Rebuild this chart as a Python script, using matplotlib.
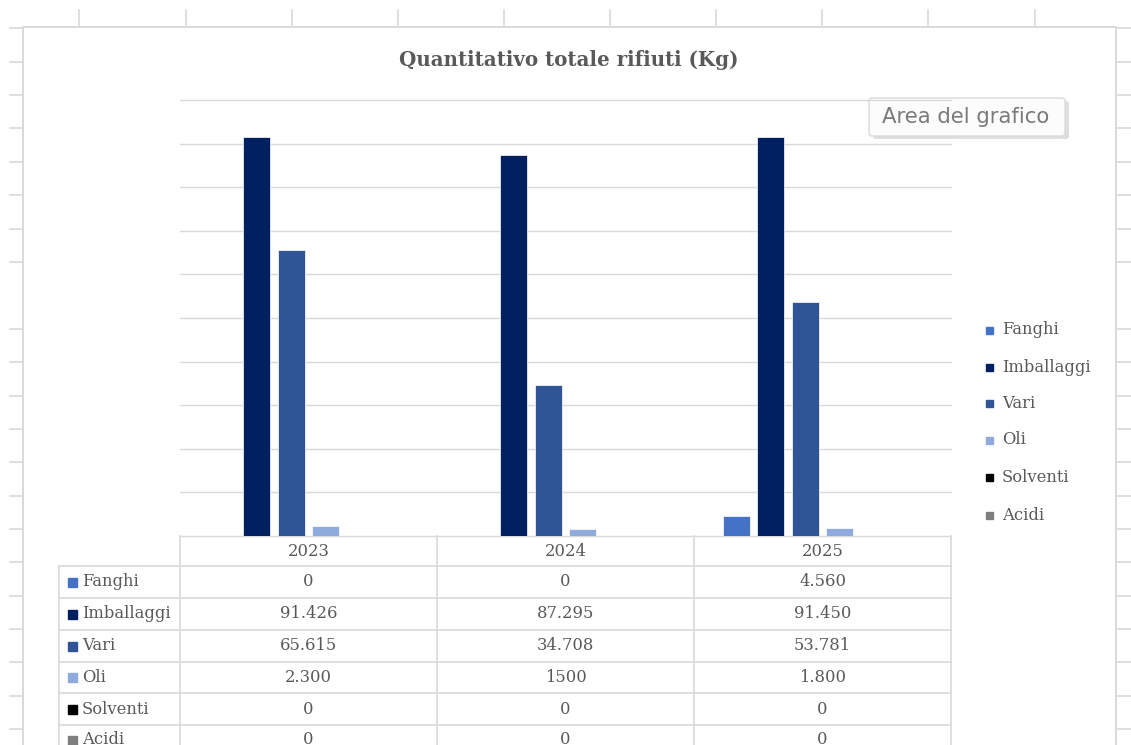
import numpy as np
import matplotlib
matplotlib.use("Agg")
import matplotlib.pyplot as plt
from matplotlib import transforms
from matplotlib.patches import FancyBboxPatch, Rectangle

# Dati (Kg)
anni = ["2023", "2024", "2025"]
serie = ["Fanghi", "Imballaggi", "Vari", "Oli", "Solventi", "Acidi"]
fanghi = [0, 0, 4560]
imballaggi = [91426, 87295, 91450]
vari = [65615, 34708, 53781]
oli = [2300, 1500, 1800]
solventi = [0, 0, 0]
acidi = [0, 0, 0]
# etichette della tabella dati come appaiono nel foglio
etichette = [["0", "0", "4.560"],
             ["91.426", "87.295", "91.450"],
             ["65.615", "34.708", "53.781"],
             ["2.300", "1500", "1.800"],
             ["0", "0", "0"],
             ["0", "0", "0"]]
colori = ["#4472C4", "#002060", "#2F5597", "#8FAADC", "#000000", "#7F7F7F"]

valori = [fanghi, imballaggi, vari, oli, solventi, acidi]
grigio = "#d9d9d9"
testo = "#595959"
serif = "DejaVu Serif"
fs = 11.8

W, H = 1131, 745
fig = plt.figure(figsize=(W / 100, H / 100), dpi=100)

# sfondo in pixel: griglia del foglio, cornice, tabella
bg = fig.add_axes([0, 0, 1, 1])
bg.set_xlim(0, W)
bg.set_ylim(H, 0)
bg.axis("off")

righe_foglio = [28, 62, 95, 128, 162, 195, 229, 262, 329, 362, 396, 429, 462, 496, 529, 562, 596, 629, 662, 696, 729]
for y in righe_foglio:
    bg.plot([10, 22], [y, y], color=grigio, lw=1.2)
    bg.plot([1117, W], [y, y], color=grigio, lw=1.2)
for x in [79, 186, 292, 398, 504, 610, 716, 822, 928, 1035]:
    bg.plot([x, x], [10, 25], color=grigio, lw=1.2)
# cornice del grafico
bg.plot([23, 23, 1116, 1116], [H, 26.5, 26.5, H], color=grigio, lw=1.4)

# area del tracciato
x0, x1, ytop, ybase = 180, 951, 100, 536
ax = fig.add_axes([x0 / W, (H - ybase) / H, (x1 - x0) / W, (ybase - ytop) / H])
ax.set_facecolor("none")
x = np.arange(len(anni))
passo = 34.5 / 257
larghezza = 27 / 257
for i, (nome, v) in enumerate(zip(serie, valori)):
    ax.bar(x + (i - 2.5) * passo, v, larghezza, color=colori[i], label=nome,
           edgecolor="white", linewidth=0.5, zorder=3)
ax.set_xlim(-0.5, 2.5)
ax.set_ylim(0, 100000)
ax.set_yticks(np.arange(0, 100001, 10000))
ax.yaxis.grid(True, color=grigio, lw=1.0)
for gl in ax.get_ygridlines():
    gl.set_clip_on(False)
ax.tick_params(left=False, bottom=False, labelleft=False, labelbottom=False)
for s in ax.spines.values():
    s.set_visible(False)

# tabella dati sotto il grafico
tr = transforms.blended_transform_factory(ax.transData, bg.transData)
for xv in [x0, 437, 694, x1]:
    bg.plot([xv, xv], [ybase, H], color=grigio, lw=1.2)
bg.plot([59, 59], [566, H], color=grigio, lw=1.2)
bordi = [566, 598, 630, 661.5, 693, 725]
for y in bordi:
    bg.plot([59, x1], [y, y], color=grigio, lw=1.2)
for j, a in enumerate(anni):
    bg.text(j, 551.5, a, transform=tr, ha="center", va="center",
            fontsize=fs, family=serif, color=testo)
righe_y = [582, 614, 646, 677, 709, 740]
for i, nome in enumerate(serie):
    y = righe_y[i]
    bg.add_patch(Rectangle((68, y - 4.5), 9, 9, color=colori[i]))
    bg.text(82, y, nome, ha="left", va="center", fontsize=fs,
            family=serif, color=testo)
    for j in range(len(anni)):
        bg.text(j, y, etichette[i][j], transform=tr, ha="center", va="center",
                fontsize=fs, family=serif, color=testo)

# legenda
leg_y = [330, 367, 403, 440, 477, 515]
for i, nome in enumerate(serie):
    bg.add_patch(Rectangle((986, leg_y[i] - 3.5), 7, 7, color=colori[i]))
    bg.text(1002, leg_y[i], nome, ha="left", va="center", fontsize=fs,
            family=serif, color=testo)

# titolo
bg.text(569, 60, "Quantitativo totale rifiuti (Kg)", ha="center", va="center",
        fontsize=14.3, fontweight="bold", family=serif, color=testo)

# suggerimento "Area del grafico"
bg.add_patch(FancyBboxPatch((873, 101), 196, 38, boxstyle="round,pad=0,rounding_size=3",
                            facecolor="#c8c8c8", edgecolor="none", alpha=0.6, zorder=5))
bg.add_patch(FancyBboxPatch((869, 98), 196, 38, boxstyle="round,pad=0,rounding_size=3",
                            facecolor="#fcfcfc", edgecolor="#dadada", lw=1, zorder=6))
bg.text(966, 117, "Area del grafico", ha="center", va="center", fontsize=15.3,
        family="DejaVu Sans", color="#7a7a7a", zorder=7)

fig.savefig("out.png", dpi=100)
